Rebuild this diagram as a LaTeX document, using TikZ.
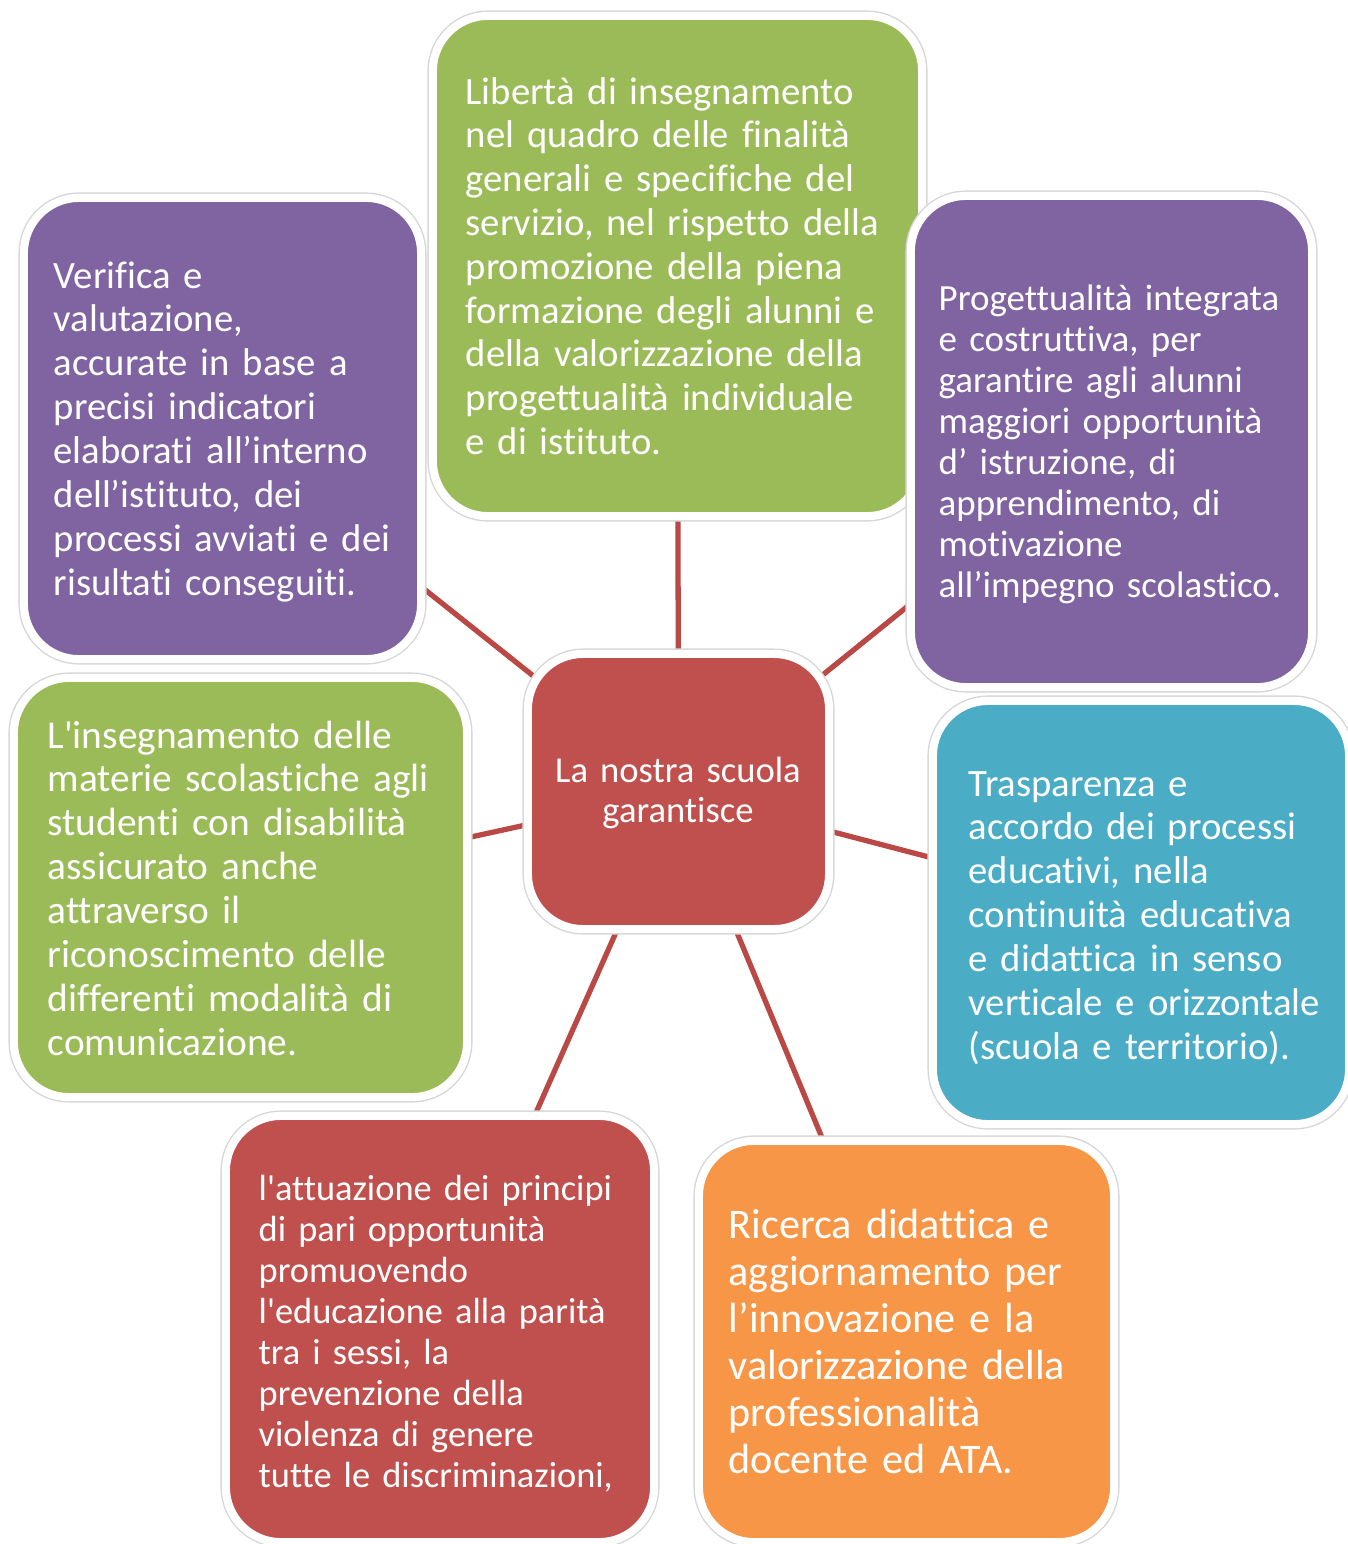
\documentclass[tikz,border=0pt]{standalone}
\usepackage{fontspec}
\setmainfont{Carlito}[Ligatures={TeX,NoCommon}]
\usetikzlibrary{backgrounds}
\definecolor{sgreen}{HTML}{9BBB59}
\definecolor{spurple}{HTML}{8064A2}
\definecolor{sred}{HTML}{C0504D}
\definecolor{sblue}{HTML}{4BACC6}
\definecolor{sorange}{HTML}{F79646}
\definecolor{slink}{HTML}{BA4845}
\newcommand{\fs}[2]{\fontsize{#1}{#2}\selectfont}
\tikzset{
  box/.style={rounded corners=0.55cm, draw=white, line width=2.3pt, inner sep=0pt,
    preaction={draw=black!16, line width=3.1pt}},
  txt/.style={text=white, align=left, anchor=base west, inner sep=0pt, text width=4.6cm},
  link/.style={draw=slink, line width=1.5pt},
}

\begin{document}
\begin{tikzpicture}[x=0.01cm,y=-0.01cm]
\useasboundingbox (0,0) rectangle (1348,1544);
\clip (0,0) rectangle (1348,1544);
% boxes
\node[box, fill=sgreen, minimum width=4.89cm, minimum height=5cm] (liberta) at (677.5,266) {};
\node[box, fill=spurple, minimum width=3.97cm, minimum height=4.61cm] (verifica) at (222.5,428.5) {};
\node[box, fill=spurple, minimum width=4.01cm, minimum height=4.91cm] (progett) at (1111.5,441.5) {};
\node[box, fill=sred, minimum width=3.01cm, minimum height=2.75cm] (hub) at (678.5,791.5) {};
\node[box, fill=sgreen, minimum width=4.53cm, minimum height=4.19cm] (insegn) at (240.5,887.5) {};
\node[box, fill=sblue, minimum width=4.16cm, minimum height=4.23cm] (traspar) at (1141,912.5) {};
\node[box, fill=sred, minimum width=4.28cm, minimum height=4.26cm] (parita) at (440,1329) {};
\node[box, fill=sorange, minimum width=4.15cm, minimum height=4.01cm] (ricerca) at (906.5,1341.5) {};
% texts
\node[txt, font=\fs{11}{12.46}] (t-liberta) at (465,104) {Libertà di insegnamento\\
  nel quadro delle finalità\\ generali e specifiche del\\ servizio, nel rispetto della\\
  promozione della piena\\ formazione degli alunni e\\ della valorizzazione della\\
  progettualità individuale\\ e di istituto.};
\node[txt, font=\fs{11}{12.5}] (t-verifica) at (53,288) {Verifica e\\ valutazione,\\
  accurate in base a\\ precisi indicatori\\ elaborati all’interno\\ dell’istituto, dei\\
  processi avviati e dei\\ risultati conseguiti.};
\node[txt, font=\fs{10.5}{11.66}] (t-progett) at (938,310) {Progettualità integrata\\
  e costruttiva, per\\ garantire agli alunni\\ maggiori opportunità\\ d’ istruzione, di\\
  apprendimento, di\\ motivazione\\ all’impegno scolastico.};
\node[txt, font=\fs{10.4}{11.4}, align=center, anchor=base, text width=3cm] (t-hub) at (678,782)
  {La nostra scuola\\ garantisce};
\node[txt, font=\fs{11.2}{12.5}] (t-insegn) at (47,748) {L\textquotesingle insegnamento delle\\
  materie scolastiche agli\\ studenti con disabilità\\ assicurato anche\\ attraverso il\\
  riconoscimento delle\\ differenti modalità di\\ comunicazione.};
\node[txt, font=\fs{11}{12.5}] (t-traspar) at (968,796) {Trasparenza e\\
  accordo dei processi\\ educativi, nella\\ continuità educativa\\ e didattica in senso\\
  verticale e orizzontale\\ (scuola e territorio).};
\node[txt, font=\fs{10.35}{11.66}] (t-parita) at (258,1200) {l\textquotesingle attuazione dei principi\\
  di pari opportunità\\ promuovendo\\ l\textquotesingle educazione alla parità\\ tra i sessi, la\\
  prevenzione della\\ violenza di genere\\ tutte le discriminazioni,};
\node[txt, font=\fs{12}{13.4}] (t-ricerca) at (728,1238) {Ricerca didattica e\\
  aggiornamento per\\ l’innovazione e la\\ valorizzazione della\\ professionalità\\
  docente ed ATA.};
% connectors
\begin{scope}[on background layer]
  \foreach \b in {liberta,verifica,progett,insegn,traspar,parita,ricerca}
    \draw[link] (hub.center) -- (\b.center);
\end{scope}
\end{tikzpicture}
\end{document}
